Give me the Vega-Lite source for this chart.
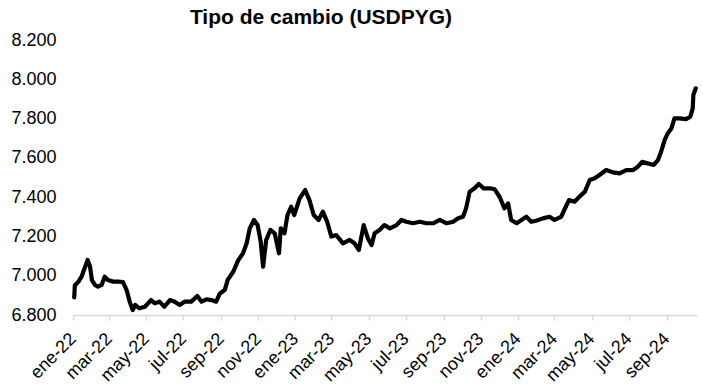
{
  "$schema": "https://vega.github.io/schema/vega-lite/v6.json",
  "autosize": "none",
  "width": 624,
  "height": 275,
  "padding": {"left": 73, "top": 40, "right": 6, "bottom": 70},
  "background": "white",
  "title": {
    "text": "Tipo de cambio (USDPYG)",
    "font": "Liberation Sans",
    "fontSize": 21,
    "fontWeight": "bold",
    "color": "#000000",
    "anchor": "middle",
    "dx": -64,
    "offset": 3
  },
  "data": {
    "values": [
      {"fecha": "2022-01-03", "valor": 6890},
      {"fecha": "2022-01-04", "valor": 6950},
      {"fecha": "2022-01-10", "valor": 6970},
      {"fecha": "2022-01-15", "valor": 6995},
      {"fecha": "2022-01-19", "valor": 7029},
      {"fecha": "2022-01-25", "valor": 7080},
      {"fecha": "2022-01-29", "valor": 7046},
      {"fecha": "2022-02-01", "valor": 6978},
      {"fecha": "2022-02-06", "valor": 6953},
      {"fecha": "2022-02-11", "valor": 6944},
      {"fecha": "2022-02-17", "valor": 6953},
      {"fecha": "2022-02-22", "valor": 6995},
      {"fecha": "2022-02-27", "valor": 6978},
      {"fecha": "2022-03-08", "valor": 6970},
      {"fecha": "2022-03-16", "valor": 6970},
      {"fecha": "2022-03-24", "valor": 6968},
      {"fecha": "2022-03-30", "valor": 6927},
      {"fecha": "2022-04-04", "valor": 6868},
      {"fecha": "2022-04-09", "valor": 6825},
      {"fecha": "2022-04-13", "valor": 6851},
      {"fecha": "2022-04-20", "valor": 6834},
      {"fecha": "2022-04-29", "valor": 6842},
      {"fecha": "2022-05-09", "valor": 6876},
      {"fecha": "2022-05-15", "valor": 6860},
      {"fecha": "2022-05-23", "valor": 6868},
      {"fecha": "2022-05-31", "valor": 6842},
      {"fecha": "2022-06-09", "valor": 6876},
      {"fecha": "2022-06-17", "valor": 6868},
      {"fecha": "2022-06-25", "valor": 6851},
      {"fecha": "2022-07-03", "valor": 6868},
      {"fecha": "2022-07-14", "valor": 6868},
      {"fecha": "2022-07-24", "valor": 6897},
      {"fecha": "2022-07-31", "valor": 6868},
      {"fecha": "2022-08-08", "valor": 6880},
      {"fecha": "2022-08-16", "valor": 6876},
      {"fecha": "2022-08-24", "valor": 6868},
      {"fecha": "2022-08-30", "valor": 6910},
      {"fecha": "2022-09-07", "valor": 6927},
      {"fecha": "2022-09-12", "valor": 6980},
      {"fecha": "2022-09-21", "valor": 7020},
      {"fecha": "2022-09-29", "valor": 7078},
      {"fecha": "2022-10-07", "valor": 7114},
      {"fecha": "2022-10-13", "valor": 7165},
      {"fecha": "2022-10-18", "valor": 7241},
      {"fecha": "2022-10-25", "valor": 7284},
      {"fecha": "2022-10-31", "valor": 7258},
      {"fecha": "2022-11-05", "valor": 7173},
      {"fecha": "2022-11-09", "valor": 7046},
      {"fecha": "2022-11-14", "valor": 7182},
      {"fecha": "2022-11-21", "valor": 7233},
      {"fecha": "2022-11-28", "valor": 7216},
      {"fecha": "2022-12-05", "valor": 7114},
      {"fecha": "2022-12-08", "valor": 7241},
      {"fecha": "2022-12-14", "valor": 7216},
      {"fecha": "2022-12-19", "valor": 7309},
      {"fecha": "2022-12-25", "valor": 7351},
      {"fecha": "2022-12-30", "valor": 7309},
      {"fecha": "2023-01-08", "valor": 7394},
      {"fecha": "2023-01-17", "valor": 7436},
      {"fecha": "2023-01-24", "valor": 7385},
      {"fecha": "2023-01-31", "valor": 7309},
      {"fecha": "2023-02-08", "valor": 7284},
      {"fecha": "2023-02-15", "valor": 7326},
      {"fecha": "2023-02-22", "valor": 7275},
      {"fecha": "2023-03-01", "valor": 7199},
      {"fecha": "2023-03-09", "valor": 7207},
      {"fecha": "2023-03-20", "valor": 7165},
      {"fecha": "2023-03-31", "valor": 7182},
      {"fecha": "2023-04-08", "valor": 7165},
      {"fecha": "2023-04-15", "valor": 7131},
      {"fecha": "2023-04-23", "valor": 7258},
      {"fecha": "2023-04-30", "valor": 7190},
      {"fecha": "2023-05-06", "valor": 7156},
      {"fecha": "2023-05-11", "valor": 7216},
      {"fecha": "2023-05-19", "valor": 7233},
      {"fecha": "2023-05-27", "valor": 7258},
      {"fecha": "2023-06-05", "valor": 7241},
      {"fecha": "2023-06-16", "valor": 7258},
      {"fecha": "2023-06-24", "valor": 7284},
      {"fecha": "2023-07-02", "valor": 7275},
      {"fecha": "2023-07-13", "valor": 7267},
      {"fecha": "2023-07-24", "valor": 7275},
      {"fecha": "2023-08-04", "valor": 7267},
      {"fecha": "2023-08-15", "valor": 7267},
      {"fecha": "2023-08-26", "valor": 7284},
      {"fecha": "2023-09-06", "valor": 7267},
      {"fecha": "2023-09-17", "valor": 7275},
      {"fecha": "2023-09-25", "valor": 7292},
      {"fecha": "2023-10-03", "valor": 7300},
      {"fecha": "2023-10-08", "valor": 7343},
      {"fecha": "2023-10-14", "valor": 7428},
      {"fecha": "2023-10-22", "valor": 7445},
      {"fecha": "2023-10-29", "valor": 7467},
      {"fecha": "2023-11-06", "valor": 7445},
      {"fecha": "2023-11-16", "valor": 7445},
      {"fecha": "2023-11-24", "valor": 7440},
      {"fecha": "2023-12-02", "valor": 7402},
      {"fecha": "2023-12-10", "valor": 7343},
      {"fecha": "2023-12-16", "valor": 7368},
      {"fecha": "2023-12-21", "valor": 7284},
      {"fecha": "2023-12-30", "valor": 7267},
      {"fecha": "2024-01-07", "valor": 7284},
      {"fecha": "2024-01-15", "valor": 7300},
      {"fecha": "2024-01-23", "valor": 7275},
      {"fecha": "2024-01-31", "valor": 7280},
      {"fecha": "2024-02-11", "valor": 7292},
      {"fecha": "2024-02-22", "valor": 7300},
      {"fecha": "2024-03-01", "valor": 7284},
      {"fecha": "2024-03-12", "valor": 7300},
      {"fecha": "2024-03-21", "valor": 7360},
      {"fecha": "2024-03-25", "valor": 7385},
      {"fecha": "2024-04-03", "valor": 7377},
      {"fecha": "2024-04-11", "valor": 7402},
      {"fecha": "2024-04-20", "valor": 7428},
      {"fecha": "2024-04-28", "valor": 7487},
      {"fecha": "2024-05-06", "valor": 7496},
      {"fecha": "2024-05-14", "valor": 7513},
      {"fecha": "2024-05-25", "valor": 7538},
      {"fecha": "2024-06-05", "valor": 7526},
      {"fecha": "2024-06-16", "valor": 7521},
      {"fecha": "2024-06-27", "valor": 7538},
      {"fecha": "2024-07-08", "valor": 7538},
      {"fecha": "2024-07-16", "valor": 7555},
      {"fecha": "2024-07-23", "valor": 7580},
      {"fecha": "2024-08-01", "valor": 7572},
      {"fecha": "2024-08-11", "valor": 7564},
      {"fecha": "2024-08-18", "valor": 7589},
      {"fecha": "2024-08-23", "valor": 7631},
      {"fecha": "2024-08-29", "valor": 7691},
      {"fecha": "2024-09-03", "valor": 7725},
      {"fecha": "2024-09-09", "valor": 7750},
      {"fecha": "2024-09-14", "valor": 7801},
      {"fecha": "2024-09-22", "valor": 7801},
      {"fecha": "2024-10-03", "valor": 7797},
      {"fecha": "2024-10-10", "valor": 7810},
      {"fecha": "2024-10-14", "valor": 7852},
      {"fecha": "2024-10-15", "valor": 7920},
      {"fecha": "2024-10-19", "valor": 7954}
    ]
  },
  "mark": {"type": "line", "color": "#000000", "strokeWidth": 4.2, "strokeJoin": "round", "strokeCap": "round", "clip": false},
  "encoding": {
    "x": {
      "field": "fecha",
      "type": "temporal",
      "scale": {
        "type": "utc",
        "domain": [
          {"year": 2022, "month": 1, "date": 1, "utc": true},
          {"year": 2024, "month": 10, "date": 21, "utc": true}
        ]
      },
      "axis": {
        "title": null,
        "grid": false,
        "tickCount": {"interval": "month", "step": 2},
        "labelExpr": "['ene','feb','mar','abr','may','jun','jul','ago','sep','oct','nov','dic'][utcmonth(datum.value)] + '-' + utcFormat(datum.value, '%y')",
        "labelAngle": -45,
        "labelAlign": "right",
        "labelBaseline": "middle",
        "labelFont": "Liberation Sans",
        "labelFontSize": 18,
        "labelColor": "#000000",
        "labelPadding": 16,
        "labelOverlap": false,
        "labelFlush": false,
        "domainColor": "#d9d9d9",
        "domainWidth": 1.5,
        "tickColor": "#d9d9d9",
        "tickWidth": 1.5,
        "tickSize": 5
      }
    },
    "y": {
      "field": "valor",
      "type": "quantitative",
      "scale": {"domain": [6800, 8200], "nice": false, "zero": false},
      "axis": {
        "title": null,
        "grid": false,
        "domain": false,
        "ticks": false,
        "values": [6800, 7000, 7200, 7400, 7600, 7800, 8000, 8200],
        "labelExpr": "replace(format(datum.value, ',.0f'), ',', '.')",
        "labelFont": "Liberation Sans",
        "labelFontSize": 18,
        "labelColor": "#000000",
        "labelPadding": 17
      }
    }
  },
  "config": {
    "view": {"stroke": null}
  }
}
